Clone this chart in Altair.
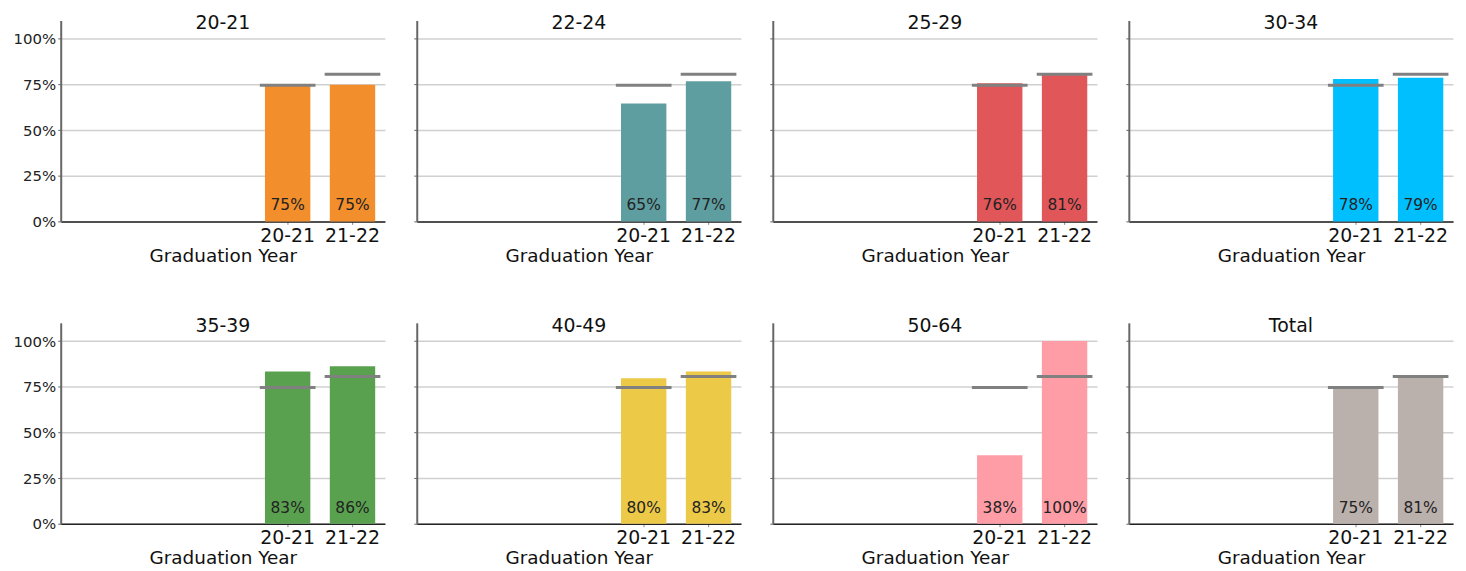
import altair as alt
import pandas as pd

FONT = "DejaVu Sans"

groups = ["20-21", "22-24", "25-29", "30-34", "35-39", "40-49", "50-64", "Total"]
colors = ["#F28E2B", "#5F9EA0", "#E15759", "#00BFFF", "#59A14F", "#EDC948", "#FF9DA7", "#BAB0AC"]
year_domain = ["17-18", "18-19", "19-20", "20-21", "21-22"]
years = ["20-21", "21-22"]
values = {
    "20-21": [0.748, 0.748],
    "22-24": [0.645, 0.768],
    "25-29": [0.757, 0.805],
    "30-34": [0.779, 0.786],
    "35-39": [0.834, 0.862],
    "40-49": [0.797, 0.834],
    "50-64": [0.375, 1.0],
    "Total": [0.746, 0.806],
}
totals = [0.746, 0.806]
y_ticks = [0, 0.25, 0.5, 0.75, 1.0]

W, H = 326, 202


def panel(name, color, first):
    df = pd.DataFrame({"year": years, "value": values[name], "total": totals})
    x = alt.X(
        "year:N",
        scale=alt.Scale(domain=year_domain, paddingInner=0.3, paddingOuter=0.15),
        axis=alt.Axis(
            values=years, title="Graduation Year", labelAngle=0,
            labelFontSize=19, titleFontSize=18.5, labelFont=FONT, titleFont=FONT,
            labelColor="#111", titleColor="#111", titleFontWeight="normal",
            domainColor="#222", domainWidth=1.5, tickSize=3, tickColor="#888",
            labelPadding=2, titlePadding=1, grid=False,
        ),
    )
    yscale = alt.Scale(domain=[0, 1.1], nice=False)
    y = alt.Y(
        "value:Q", scale=yscale,
        axis=alt.Axis(
            values=y_ticks, format="%", title=None, labels=first,
            labelFontSize=15, labelFont=FONT, labelColor="#222",
            domainColor="#666", domainWidth=2, tickSize=3, tickColor="#666",
            labelPadding=2, grid=True, gridColor="#d0d0d0", gridWidth=1.5,
        ),
    )
    base = alt.Chart(df)
    bars = base.mark_bar(color=color).encode(x=x, y=y)
    rules = base.mark_tick(color="#808080", thickness=3, size=56, opacity=1).encode(
        x=x, y=alt.Y("total:Q", scale=yscale)
    )
    text = base.mark_text(dy=-11, baseline="alphabetic", fontSize=15.5, font=FONT, color="#222").encode(
        x=x, y=alt.datum(0, scale=yscale), text=alt.Text("value:Q", format=".0%")
    )
    return alt.layer(bars, rules, text).properties(
        width=W, height=H,
        title=alt.TitleParams(
            text=name, fontSize=19, font=FONT, fontWeight="normal", color="#111",
            anchor="middle", baseline="alphabetic", offset=-28,
        ),
    )


row1 = alt.hconcat(*[panel(g, c, i == 0) for i, (g, c) in enumerate(zip(groups[:4], colors[:4]))], spacing=28)
row2 = alt.hconcat(*[panel(g, c, i == 0) for i, (g, c) in enumerate(zip(groups[4:], colors[4:]))], spacing=28)
chart = alt.vconcat(row1, row2, spacing=52).configure_view(stroke=None)

chart.save("out.html", embed_options={"renderer": "svg", "actions": False})
